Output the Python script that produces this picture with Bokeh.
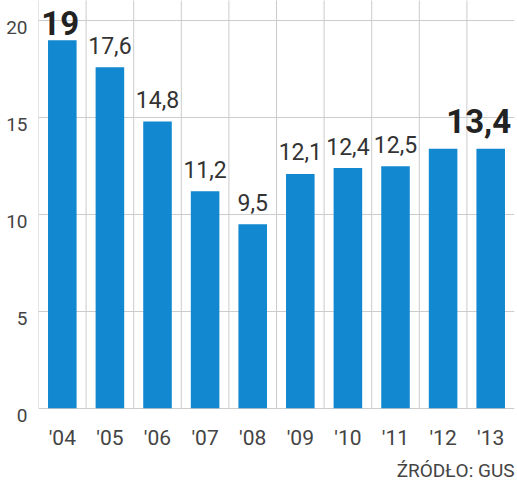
from bokeh.plotting import figure
from bokeh.models import ColumnDataSource, Range1d, LinearAxis, FixedTicker, Title
from bokeh.transform import dodge
from bokeh.core.properties import value
from bokeh.embed import file_html
from bokeh.resources import INLINE

years = ["'04", "'05", "'06", "'07", "'08", "'09", "'10", "'11", "'12", "'13"]
values = [19, 17.6, 14.8, 11.2, 9.5, 12.1, 12.4, 12.5, 13.4, 13.4]
reg_years = ["'05", "'06", "'07", "'08", "'09", "'10", "'11"]
reg_values = [17.6, 14.8, 11.2, 9.5, 12.1, 12.4, 12.5]
reg_labels = ["17,6", "14,8", "11,2", "9,5", "12,1", "12,4", "12,5"]
big_years = ["'04", "'13"]
big_values = [19, 13.4]
big_labels = ["19", "13,4"]
y_ticks = [0, 5, 10, 15, 20]
source_text = "ŹRÓDŁO: GUS"

FONT = "Roboto"
BLUE = "#1188d0"
GRID = "#cccccc"
Y0, Y1, SHIFT = -0.37, 21.05, 0.36

p = figure(x_range=years, y_range=Range1d(Y0, Y1), width=516, height=485,
           output_backend="svg", toolbar_location=None,
           min_border_left=38, min_border_right=2, min_border_top=0, min_border_bottom=40)
p.outline_line_color = None
p.background_fill_color = "white"

# vertical separators
p.segment(x0=dodge('yr', -0.5, range=p.x_range), y0=0,
          x1=dodge('yr', -0.5, range=p.x_range), y1=30,
          source=ColumnDataSource(dict(yr=years)), line_color=GRID, line_width=1)

p.vbar(x=years, top=values, width=0.6, color=BLUE, line_color=None)

p.text(x=reg_years, y=reg_values, text=reg_labels, text_font=value(FONT),
       text_font_size="23px", text_color="#333333", text_align="center",
       text_baseline="alphabetic", y_offset=-22)
p.text(x=big_years, y=big_values, text=big_labels, text_font=value(FONT),
       text_font_size="33px", text_font_style="bold", text_color="#222222",
       text_align="center", text_baseline="alphabetic",
       x_offset=[-2, -12], y_offset=[-17, -28])

p.xgrid.visible = False
p.ygrid.ticker = FixedTicker(ticks=y_ticks)
p.ygrid.grid_line_color = GRID
p.ygrid.grid_line_width = 1

p.yaxis.visible = False
p.extra_y_ranges = {"lab": Range1d(Y0 + SHIFT, Y1 + SHIFT)}
lab_axis = LinearAxis(y_range_name="lab", ticker=FixedTicker(ticks=y_ticks))
lab_axis.axis_line_color = None
lab_axis.major_tick_line_color = None
lab_axis.minor_tick_line_color = None
lab_axis.major_label_standoff = 5
lab_axis.major_label_text_font = FONT
lab_axis.major_label_text_font_size = "19px"
lab_axis.major_label_text_color = "#444444"
p.add_layout(lab_axis, "left")

xa = p.xaxis[0]
xa.axis_line_color = None
xa.major_tick_line_color = None
xa.major_label_standoff = 4
xa.major_label_text_font = FONT
xa.major_label_text_font_size = "21px"
xa.major_label_text_color = "#444444"

src = Title(text=source_text, align="right", text_font=FONT, text_font_size="19px",
            text_font_style="normal", text_color="#444444", standoff=8)
p.add_layout(src, "below")

open("out.html", "w").write(file_html(p, INLINE))
